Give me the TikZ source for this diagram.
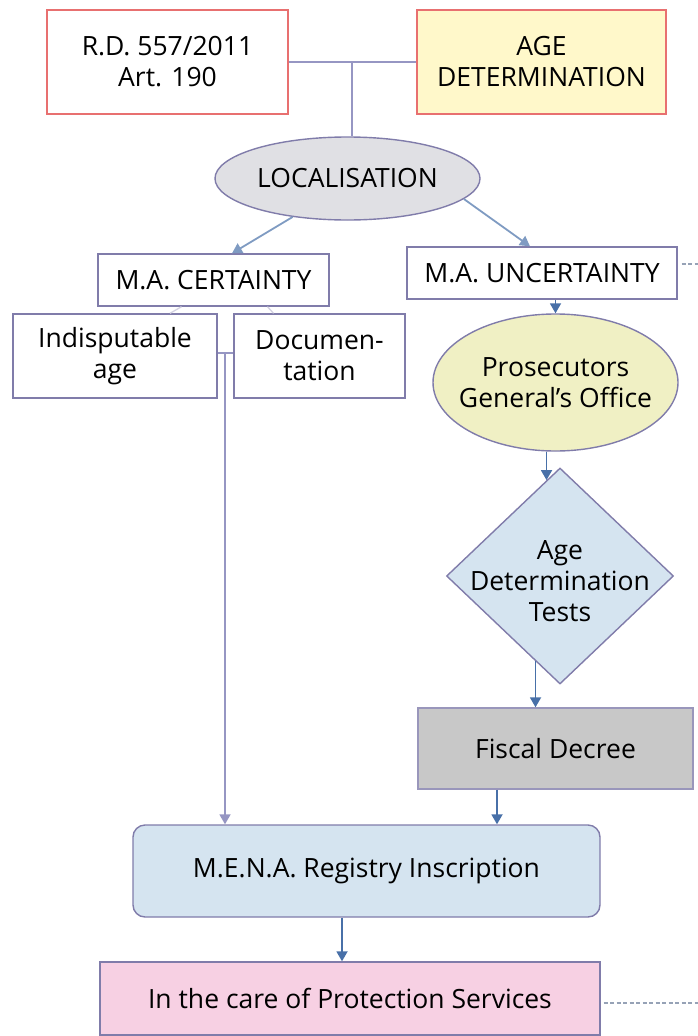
\documentclass[tikz,border=0pt]{standalone}
\usepackage{fontspec}
\setmainfont{Open Sans}
\usetikzlibrary{shapes.geometric,arrows.meta}

\definecolor{redline}{RGB}{232,112,112}
\definecolor{boxline}{RGB}{128,124,170}
\definecolor{ageyellow}{RGB}{255,248,202}
\definecolor{locgray}{RGB}{224,224,228}
\definecolor{prosyellow}{RGB}{240,240,196}
\definecolor{testblue}{RGB}{213,228,240}
\definecolor{fiscalgray}{RGB}{200,200,200}
\definecolor{carepink}{RGB}{247,208,227}
\definecolor{arrowblue}{RGB}{72,112,168}
\definecolor{joinline}{RGB}{150,150,195}
\definecolor{dashgray}{RGB}{150,162,182}

\begin{document}
\begin{tikzpicture}[x=1pt,y=-1pt]
                \tikzset{Box/.style = {draw=boxline, line width=1.4pt, fill=white, rectangle, align=center,
                                       inner sep=0pt, font=\fontsize{26.5}{31}\selectfont},
                         RedBox/.style = {Box, draw=redline},
                         Oval/.style = {Box, ellipse},
                         Arr/.style = {draw=arrowblue, line width=1.8pt, -{Triangle[width=11pt,length=10pt]}},
                         Join/.style = {draw=joinline, line width=1.8pt},
                         Faint/.style = {draw=boxline!35, line width=1.3pt},
                         Out/.style = {draw=dashgray, line width=1.4pt, dash pattern=on 4pt off 2.5pt}}
                \useasboundingbox (0,0) rectangle (698,1036);
                % top row
                \node[RedBox, minimum width=241, minimum height=104] (rd) at (167.5,62) {R.D. 557/2011\\Art. 190};
                \node[RedBox, fill=ageyellow, minimum width=249, minimum height=104] (age) at (541.5,62) {AGE\\DETERMINATION};
                \node[Oval, fill=locgray, minimum width=265, minimum height=83] (loc) at (347.5,178.5) {LOCALISATION};
                % certainty branch
                \node[Box, minimum width=231, minimum height=52] (cert) at (213.5,280) {M.A. CERTAINTY};
                \node[Box, minimum width=204, minimum height=84] (indis) at (115,356) {Indisputable\\age};
                \node[Box, minimum width=171, minimum height=84] (docu) at (319.5,356) {Documen-\\tation};
                % uncertainty branch
                \node[Box, minimum width=270, minimum height=52] (uncert) at (542,273) {M.A. UNCERTAINTY};
                \node[Oval, fill=prosyellow, inner sep=-12pt, minimum width=245, minimum height=137] (pros) at (555.5,382.5) {Prosecutors\\General’s Office};
                \node[Box, diamond, fill=testblue, minimum width=227, minimum height=216] (tests) at (560,576) {};
                \node[align=center, font=\fontsize{26.5}{31}\selectfont] (testslbl) at (560,581) {Age\\Determination\\Tests};
                \node[Box, draw=boxline!80, fill=fiscalgray, minimum width=275, minimum height=81] (fiscal) at (555.5,748.5) {Fiscal Decree};
                % bottom
                \node[Box, fill=testblue, rounded corners=12pt, minimum width=467, minimum height=92] (mena) at (366.5,871) {M.E.N.A. Registry Inscription};
                \node[Box, fill=carepink, minimum width=500, minimum height=73] (prot) at (350,998.5) {\raisebox{-6pt}{In the care of Protection Services}};

                \coordinate (jtop) at (352,62);
                \coordinate (jleft) at (225,353);
                \coordinate (uout) at (698,264);
                \coordinate (pout) at (698,1003);

                \draw[Join] (rd.east) -- (age.west);
                \draw[Join] (jtop) -- (jtop |- loc.north);
                \draw[Arr, draw=arrowblue!70] (loc.-145) -- ([xshift=18.5pt]cert.north);
                \draw[Arr, draw=arrowblue!70] (loc.-10) -- ([xshift=-12pt]uncert.north);
                \draw[Faint] ([xshift=-32pt]cert.south) -- ([xshift=55pt]indis.north);
                \draw[Faint] ([xshift=54pt]cert.south) -- ([xshift=-46pt]docu.north);
                \draw[Join] (indis.east |- jleft) -- (docu.west |- jleft);
                \draw[Arr, draw=joinline] (jleft) -- (jleft |- mena.north);
                \draw[Arr] (pros.north |- uncert.south) -- (pros.north);
                \draw[Arr] (tests.98 |- pros.south) -- (tests.98);
                \draw[Arr] (tests.-106) -- (tests.-106 |- fiscal.north);
                \draw[Arr] ([xshift=-58.5pt]fiscal.south) -- ([xshift=-58.5pt]fiscal.south |- mena.north);
                \draw[Arr] ([xshift=-24.5pt]mena.south) -- ([xshift=-24.5pt]mena.south |- prot.north);
                \draw[Out] ([xshift=4pt]uncert.east |- uout) -- (uout);
                \draw[Out] ([xshift=3pt]prot.east |- pout) -- (pout);

            \end{tikzpicture}
\end{document}
